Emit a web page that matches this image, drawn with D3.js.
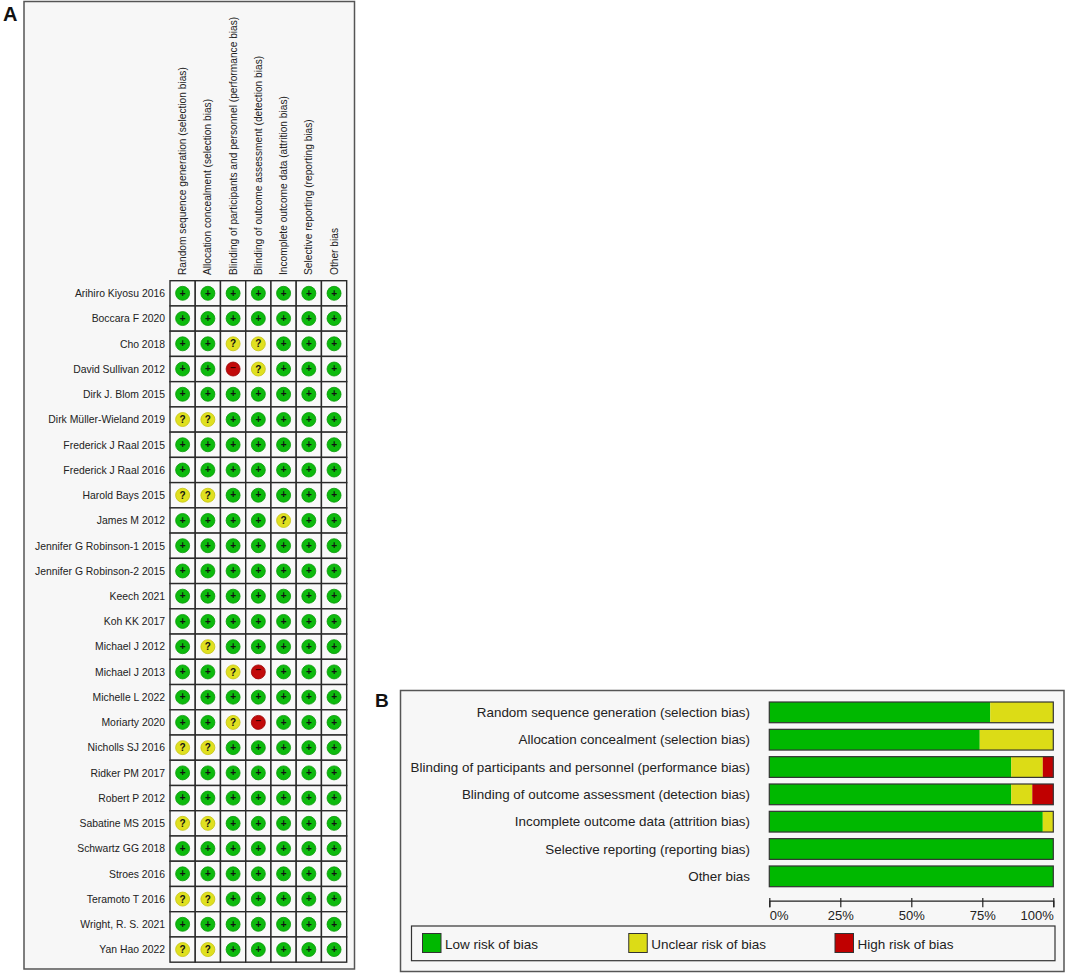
<!DOCTYPE html>
<html>
<head>
<meta charset="utf-8">
<script src="https://cdn.jsdelivr.net/npm/d3@7"></script>
<style>
  html, body { margin: 0; padding: 0; background: #ffffff; }
  svg { display: block; font-family: "Liberation Sans", Arial, sans-serif; }
</style>
</head>
<body>
<svg id="chart" width="1067" height="974"></svg>
<script>
// ---------- DATA ----------
const domains = [
  "Random sequence generation (selection bias)",
  "Allocation concealment (selection bias)",
  "Blinding of participants and personnel (performance bias)",
  "Blinding of outcome assessment (detection bias)",
  "Incomplete outcome data (attrition bias)",
  "Selective reporting (reporting bias)",
  "Other bias"
];
const studies = [
  "Arihiro Kiyosu 2016", "Boccara F 2020", "Cho 2018", "David Sullivan 2012",
  "Dirk J. Blom 2015", "Dirk Müller-Wieland 2019", "Frederick J Raal 2015",
  "Frederick J Raal 2016", "Harold Bays 2015", "James M 2012",
  "Jennifer G Robinson-1  2015", "Jennifer G Robinson-2 2015", "Keech 2021",
  "Koh KK 2017", "Michael J 2012", "Michael J 2013", "Michelle L 2022",
  "Moriarty 2020", "Nicholls SJ 2016", "Ridker PM 2017", "Robert P 2012",
  "Sabatine MS 2015", "Schwartz GG 2018", "Stroes 2016", "Teramoto T 2016",
  "Wright, R. S. 2021", "Yan Hao 2022"
];
// one string per study, one character per domain: + low, ? unclear, - high
const judgments = [
  "+++++++", "+++++++", "++??+++", "++-?+++",
  "+++++++", "??+++++", "+++++++",
  "+++++++", "??+++++", "++++?++",
  "+++++++", "+++++++", "+++++++",
  "+++++++", "+?+++++", "++?-+++", "+++++++",
  "++?-+++", "??+++++", "+++++++", "+++++++",
  "??+++++", "+++++++", "+++++++", "??+++++",
  "+++++++", "??+++++"
];
// Panel B: percentage of studies per domain
const lowPct     = [77.8, 74.1, 85.2, 85.2, 96.3, 100, 100];
const unclearPct = [22.2, 25.9, 11.1,  7.4,  3.7,   0,   0];
const highPct    = [ 0,    0,    3.7,  7.4,  0,     0,   0];
const axisTicks  = [0, 25, 50, 75, 100];
const legendItems = ["Low risk of bias", "Unclear risk of bias", "High risk of bias"];

// ---------- STYLE ----------
const C = {
  green: "#0dba0d", greenDark: "#0a9a0a",
  yellow: "#e0e020", yellowDark: "#c4c410",
  red: "#c20a0a", redDark: "#9a0505",
  barGreen: "#00b800", barYellow: "#dcdc16", barRed: "#c00000",
  text: "#222", frame: "#555", panel: "#f7f7f7", grid: "#2a2a2a"
};

const svg = d3.select("#chart");

// ================= PANEL A =================
svg.append("rect").attr("x", 24).attr("y", 1.5).attr("width", 330.5).attr("height", 967.5)
  .attr("fill", C.panel).attr("stroke", C.frame).attr("stroke-width", 1.5);
svg.append("text").attr("x", 3).attr("y", 21).text("A")
  .attr("font-size", 20).attr("font-weight", "bold").attr("fill", "#111");

const gridLeft = 170, gridTop = 280.7, cell = 25.24;
const xA = d3.scaleBand().domain(domains).range([gridLeft, gridLeft + cell * domains.length]);
const yA = d3.scaleBand().domain(studies).range([gridTop, gridTop + cell * studies.length]);

// cells
const cells = [];
studies.forEach((s, i) => domains.forEach((d, j) => cells.push({ s, d, v: judgments[i][j] })));

const gA = svg.append("g");
gA.selectAll("rect.cell").data(cells).join("rect")
  .attr("class", "cell")
  .attr("x", d => xA(d.d)).attr("y", d => yA(d.s))
  .attr("width", xA.bandwidth()).attr("height", yA.bandwidth())
  .attr("fill", "#f9f9f9").attr("stroke", C.grid).attr("stroke-width", 1.4);

const fillOf = v => v === "+" ? C.green : v === "?" ? C.yellow : C.red;
const rimOf = v => v === "+" ? C.greenDark : v === "?" ? C.yellowDark : C.redDark;

gA.selectAll("circle.j").data(cells).join("circle")
  .attr("class", "j")
  .attr("cx", d => xA(d.d) + xA.bandwidth() / 2)
  .attr("cy", d => yA(d.s) + yA.bandwidth() / 2)
  .attr("r", 7)
  .attr("fill", d => fillOf(d.v)).attr("stroke", d => rimOf(d.v)).attr("stroke-width", 0.8);

gA.selectAll("text.sym").data(cells).join("text")
  .attr("class", "sym")
  .attr("x", d => xA(d.d) + xA.bandwidth() / 2)
  .attr("y", d => yA(d.s) + yA.bandwidth() / 2 + (d.v === "?" ? 3.6 : d.v === "+" ? 3.2 : 1.5))
  .attr("text-anchor", "middle")
  .attr("font-size", 10)
  .attr("font-weight", "bold")
  .attr("fill", d => d.v === "-" ? "#3a0000" : "#111")
  .text(d => d.v === "-" ? "−" : d.v);

// column headers (rotated)
gA.selectAll("text.col").data(domains).join("text")
  .attr("class", "col")
  .attr("transform", d => `translate(${xA(d) + xA.bandwidth() / 2 + 3.6},275) rotate(-90)`)
  .attr("font-size", 10.2).attr("fill", C.text)
  .text(d => d);

// row labels
gA.selectAll("text.row").data(studies).join("text")
  .attr("class", "row")
  .attr("x", 165).attr("y", d => yA(d) + yA.bandwidth() / 2 + 3.8)
  .attr("text-anchor", "end")
  .attr("font-size", 10.4).attr("fill", C.text)
  .text(d => d);

// ================= PANEL B =================
svg.append("rect").attr("x", 400.5).attr("y", 690.5).attr("width", 663.5).attr("height", 281)
  .attr("fill", C.panel).attr("stroke", C.frame).attr("stroke-width", 1.5);
svg.append("text").attr("x", 375).attr("y", 707).text("B")
  .attr("font-size", 19).attr("font-weight", "bold").attr("fill", "#111");

const xB = d3.scaleLinear().domain([0, 100]).range([769.3, 1053.3]);
const yB = d3.scaleBand().domain(domains).range([702 - 3.3, 702 - 3.3 + 27.33 * 7]).paddingInner(0.242).paddingOuter(0.121);

const bars = [];
domains.forEach((d, i) => {
  let start = 0;
  [["low", lowPct[i], C.barGreen], ["unclear", unclearPct[i], C.barYellow], ["high", highPct[i], C.barRed]]
    .forEach(([k, v, col]) => { if (v > 0) bars.push({ d, k, x0: start, x1: start + v, col }); start += v; });
});

const gB = svg.append("g");
gB.selectAll("rect.seg").data(bars).join("rect")
  .attr("class", "seg")
  .attr("x", d => xB(d.x0)).attr("y", d => yB(d.d))
  .attr("width", d => xB(d.x1) - xB(d.x0)).attr("height", yB.bandwidth())
  .attr("fill", d => d.col);
// bar outlines
gB.selectAll("rect.outline").data(domains).join("rect")
  .attr("class", "outline")
  .attr("x", xB(0)).attr("y", d => yB(d))
  .attr("width", xB(100) - xB(0)).attr("height", yB.bandwidth())
  .attr("fill", "none").attr("stroke", "#333").attr("stroke-width", 1.2);

gB.selectAll("text.lab").data(domains).join("text")
  .attr("class", "lab")
  .attr("x", 750).attr("y", d => yB(d) + yB.bandwidth() / 2 + 4.8)
  .attr("text-anchor", "end")
  .attr("font-size", 13.4).attr("fill", C.text)
  .text(d => d);

// axis
const axis = d3.axisBottom(xB).tickValues(axisTicks).tickFormat(d => d + "%").tickSizeOuter(0).tickSize(6.5);
const gAx = svg.append("g").attr("transform", "translate(0,900.7)").call(axis);
gAx.select(".domain").attr("stroke", "#222").attr("stroke-width", 1.2);
gAx.selectAll(".tick line").attr("y1", -2.8).attr("stroke", "#222").attr("stroke-width", 1.2);
gAx.selectAll(".tick text")
  .attr("y", 19.5).attr("dy", 0)
  .attr("font-size", 13).attr("font-family", "Liberation Sans, Arial, sans-serif").attr("fill", C.text)
  .attr("text-anchor", (d, i) => i === 0 ? "start" : i === axisTicks.length - 1 ? "end" : "middle");

// legend
svg.append("rect").attr("x", 411.5).attr("y", 926).attr("width", 643.5).attr("height", 34.7)
  .attr("fill", C.panel).attr("stroke", "#333").attr("stroke-width", 1.2);
const legCols = [C.barGreen, C.barYellow, C.barRed];
const legX = d3.scalePoint().domain(legendItems).range([422.5, 835]);
const gL = svg.append("g");
gL.selectAll("rect").data(legendItems).join("rect")
  .attr("x", d => legX(d)).attr("y", 933.5).attr("width", 18.5).attr("height", 19)
  .attr("fill", (d, i) => legCols[i]).attr("stroke", "#333").attr("stroke-width", 1);
gL.selectAll("text").data(legendItems).join("text")
  .attr("x", d => legX(d) + 22.5).attr("y", 948.5)
  .attr("font-size", 13.5).attr("fill", C.text)
  .text(d => d);
</script>
</body>
</html>
